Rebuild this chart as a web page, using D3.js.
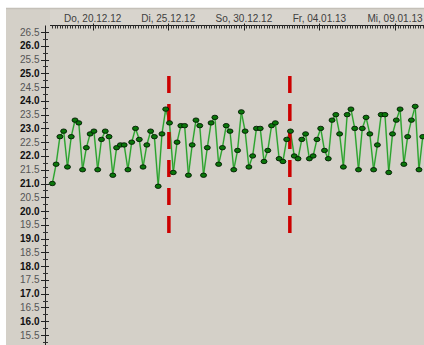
<!DOCTYPE html>
<html>
<head>
<meta charset="utf-8">
<script src="https://cdn.jsdelivr.net/npm/d3@7"></script>
<style>
  html, body { margin: 0; padding: 0; background: #ffffff; }
  svg { display: block; font-family: 'Liberation Sans', Arial, sans-serif; }
</style>
</head>
<body>
<div id="chart"></div>
<script>
// readings every 6 hours, starting 17.12.12 08:00
const startTime = '2012-12-17T08:00:00Z';
const stepHours = 6;
const temps = [
  21.0, 21.7, 22.7, 22.9, 21.6, 22.7, 23.3, 23.2, 21.5, 22.3,
  22.8, 22.9, 21.5, 22.6, 22.9, 22.7, 21.3, 22.3, 22.4, 22.4,
  21.5, 22.5, 23.0, 22.6, 21.6, 22.4, 22.9, 22.7, 20.9, 22.8,
  23.7, 23.2, 21.4, 22.5, 23.1, 23.1, 21.3, 22.4, 23.3, 23.1,
  21.3, 22.3, 23.2, 23.4, 21.7, 22.3, 23.1, 22.9, 21.5, 22.2,
  23.6, 22.9, 21.6, 22.0, 23.0, 23.0, 21.8, 22.2, 23.1, 23.2,
  21.9, 21.8, 22.6, 22.9, 22.0, 21.9, 22.6, 22.8, 21.9, 22.0,
  22.6, 23.0, 22.2, 21.9, 23.3, 23.5, 22.8, 21.6, 23.5, 23.7,
  23.0, 21.5, 23.0, 23.4, 22.8, 21.5, 22.4, 23.5, 23.5, 21.4,
  22.8, 23.3, 23.7, 21.7, 22.7, 23.3, 23.8, 21.5, 22.7
];
// red dashed markers
const markerTimes = ['2012-12-25T01:00:00Z', '2013-01-02T01:00:00Z'];
const markerRange = [24.9, 19.2];
// axis settings
const xDomain = ['2012-12-17T00:00:00Z', '2013-01-12T00:00:00Z'];
const dateLabelStart = '2012-12-20T00:00:00Z';
const dayNames = ['So', 'Mo', 'Di', 'Mi', 'Do', 'Fr', 'Sa'];
const yMajorTicks = ['15.5', '16.0', '16.5', '17.0', '17.5', '18.0', '18.5', '19.0', '19.5', '20.0',
  '20.5', '21.0', '21.5', '22.0', '22.5', '23.0', '23.5', '24.0', '24.5', '25.0', '25.5', '26.0', '26.5'];

const width = 424;
const height = 345;
const plotLeft = 50;
const axisX = 45;
const axisTop = 25.5;

const svg = d3.select('#chart').append('svg')
  .attr('width', width)
  .attr('height', height);

// panel background
svg.append('rect')
  .attr('x', 6).attr('y', 8)
  .attr('width', width - 6).attr('height', height - 8)
  .attr('fill', '#d4d0c8');
svg.append('rect')
  .attr('x', plotLeft).attr('y', 8)
  .attr('width', width - plotLeft).attr('height', axisTop - 8)
  .attr('fill', '#d8d4cd');
svg.append('line')
  .attr('x1', 6).attr('x2', width)
  .attr('y1', 8.5).attr('y2', 8.5)
  .attr('stroke', '#c4c0b8').attr('stroke-width', 1.5);

const x = d3.scaleUtc()
  .domain(xDomain.map(d => new Date(d)))
  .range([47.3, 440.4]);

const y = d3.scaleLinear()
  .domain([15.5, 26.5])
  .range([335, 32]);

const t0 = new Date(startTime).getTime();
const data = temps.map((v, i) => ({ date: new Date(t0 + i * stepHours * 3600000), value: v }));

/* Top time axis */
const topAxis = svg.append('g').attr('class', 'x-axis');
topAxis.append('line')
  .attr('x1', plotLeft).attr('x2', width)
  .attr('y1', axisTop).attr('y2', axisTop)
  .attr('stroke', '#222').attr('stroke-width', 1);

const minorTimes = d3.utcHour.every(4).range(x.domain()[0], x.domain()[1])
  .filter(d => x(d) >= plotLeft);
topAxis.selectAll('.minor')
  .data(minorTimes)
  .enter().append('line')
  .attr('class', 'minor')
  .attr('x1', d => Math.round(x(d)) + 0.5)
  .attr('x2', d => Math.round(x(d)) + 0.5)
  .attr('y1', axisTop)
  .attr('y2', axisTop + 3)
  .attr('stroke', '#333');

const majorTimes = d3.utcDay.range(new Date(dateLabelStart), x.domain()[1], 5);
const fmtDate = d => dayNames[d.getUTCDay()] + ', ' + d3.utcFormat('%d.%m.%y')(d);
topAxis.selectAll('.major')
  .data(majorTimes)
  .enter().append('line')
  .attr('class', 'major')
  .attr('x1', d => Math.round(x(d)) + 0.5)
  .attr('x2', d => Math.round(x(d)) + 0.5)
  .attr('y1', axisTop - 2)
  .attr('y2', axisTop + 5)
  .attr('stroke', '#222');
topAxis.selectAll('.label')
  .data(majorTimes)
  .enter().append('text')
  .attr('class', 'label')
  .attr('x', d => x(d))
  .attr('y', 21.5)
  .attr('text-anchor', 'middle')
  .attr('font-size', 10)
  .attr('fill', '#404040')
  .text(fmtDate);

/* Left value axis */
const leftAxis = svg.append('g').attr('class', 'y-axis');
leftAxis.append('line')
  .attr('x1', axisX + 0.5).attr('x2', axisX + 0.5)
  .attr('y1', axisTop).attr('y2', height)
  .attr('stroke', '#222');

const minorVals = d3.range(15.25, 26.6, 0.5);
leftAxis.selectAll('.minor')
  .data(minorVals)
  .enter().append('line')
  .attr('class', 'minor')
  .attr('x1', axisX - 2).attr('x2', axisX + 3)
  .attr('y1', d => Math.round(y(d)) + 0.5)
  .attr('y2', d => Math.round(y(d)) + 0.5)
  .attr('stroke', '#333');
leftAxis.selectAll('.major')
  .data(yMajorTicks)
  .enter().append('line')
  .attr('class', 'major')
  .attr('x1', axisX - 4).attr('x2', axisX + 4)
  .attr('y1', d => Math.round(y(+d)) + 0.5)
  .attr('y2', d => Math.round(y(+d)) + 0.5)
  .attr('stroke', '#222');
leftAxis.selectAll('.label')
  .data(yMajorTicks)
  .enter().append('text')
  .attr('class', 'label')
  .attr('x', 39.5)
  .attr('y', d => y(+d))
  .attr('dy', '0.35em')
  .attr('text-anchor', 'end')
  .attr('font-size', 10)
  .attr('font-weight', d => (+d % 1 === 0 ? 'bold' : 'normal'))
  .attr('fill', d => (+d % 1 === 0 ? '#111' : '#555'))
  .text(d => d);

/* Series line + markers */
const line = d3.line()
  .x(d => x(d.date))
  .y(d => y(d.value));

svg.append('path')
  .datum(data)
  .attr('fill', 'none')
  .attr('stroke', '#80c680')
  .attr('stroke-width', 1.8)
  .attr('d', line);
svg.append('path')
  .datum(data)
  .attr('fill', 'none')
  .attr('stroke', '#1c961c')
  .attr('stroke-width', 0.9)
  .attr('d', line);

/* Red dashed markers */
svg.selectAll('.marker')
  .data(markerTimes)
  .enter().append('line')
  .attr('class', 'marker')
  .attr('x1', d => x(new Date(d)))
  .attr('x2', d => x(new Date(d)))
  .attr('y1', y(markerRange[0]))
  .attr('y2', y(markerRange[1]))
  .attr('stroke', '#cc0000')
  .attr('stroke-width', 3.5)
  .attr('stroke-dasharray', '17,11');

svg.selectAll('.pt')
  .data(data)
  .enter().append('ellipse')
  .attr('class', 'pt')
  .attr('cx', d => x(d.date))
  .attr('cy', d => y(d.value))
  .attr('rx', 3)
  .attr('ry', 2.2)
  .attr('fill', '#0a760a')
  .attr('stroke', '#031a03')
  .attr('stroke-width', 0.9);
</script>
</body>
</html>
